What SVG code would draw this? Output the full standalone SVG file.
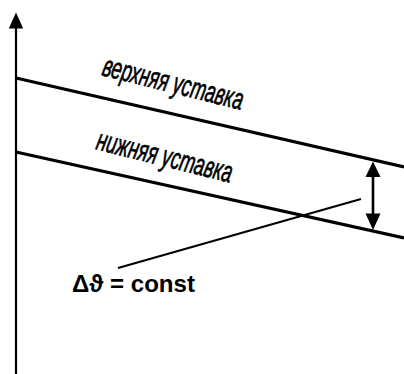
<svg xmlns="http://www.w3.org/2000/svg" width="404" height="374" viewBox="0 0 404 374">
<style>
.ln{stroke:#000;fill:none;stroke-linecap:butt}
.lbl{font-family:"Liberation Sans",Arial,sans-serif;font-style:italic;font-size:30px;fill:#000;stroke:#000;stroke-width:0.7}
.eq{font-family:"Liberation Sans",Arial,sans-serif;font-weight:bold;font-size:23px;fill:#000}
.head{fill:#000}
</style>
<rect width="404" height="374" fill="#fff"/>
<g id="connectors">
<line class="ln" x1="16" y1="374" x2="16" y2="27" stroke-width="2.2"/>
<polygon class="head" points="16,12.5 8.8,28.5 23.2,28.5"/>
<line class="ln" x1="373" y1="175" x2="373" y2="215" stroke-width="2.6"/>
<polygon class="head" points="373,161.5 365.5,177 380.5,177"/>
<polygon class="head" points="373,230 365.5,213.5 380.5,213.5"/>
<line class="ln" x1="361" y1="199" x2="118" y2="268" stroke-width="2.2"/>
</g>
<g id="upper">
<line class="ln" x1="16" y1="78" x2="404" y2="167" stroke-width="3.2"/>
<text class="lbl" transform="translate(101,75) rotate(14)" textLength="144" lengthAdjust="spacingAndGlyphs">верхняя уставка</text>
</g>
<g id="lower">
<line class="ln" x1="16" y1="152" x2="404" y2="238" stroke-width="3.2"/>
<text class="lbl" transform="translate(95,149) rotate(14)" textLength="139" lengthAdjust="spacingAndGlyphs">нижняя уставка</text>
</g>
<g id="delta">
<text class="eq" x="72" y="292" textLength="123" lengthAdjust="spacingAndGlyphs">Δϑ = const</text>
</g>
</svg>
